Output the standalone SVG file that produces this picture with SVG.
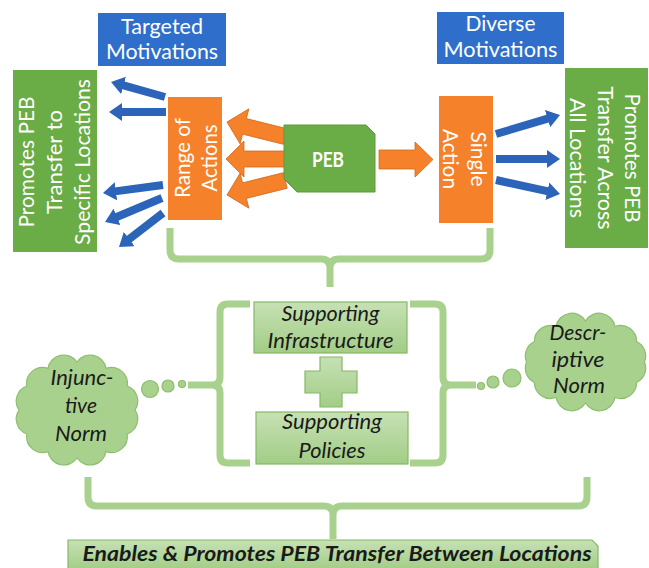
<svg xmlns="http://www.w3.org/2000/svg" width="649" height="568" viewBox="0 0 649 568">
<defs>
<style>
 text { font-family: Lato, 'Liberation Sans', Arial, sans-serif; }
 .w { fill:#ffffff; font-size:21px; text-anchor:middle; }
 .it { fill:#1a1a1a; font-size:21px; font-style:italic; text-anchor:middle; }
 .blue { fill:#2f6fcb; }
 .green { fill:#6aac46; }
 .orange { fill:#f5822a; }
 .oarrow { fill:#f5822a; stroke:#cf6a1f; stroke-width:0.8; }
 .barrow { stroke:#2c64ba; stroke-width:8; fill:none; marker-end:url(#bh); }
 .brace { fill:none; stroke:#a9d18e; stroke-width:7; stroke-linejoin:round; }
 .lg { fill:url(#lg); stroke:#86b866; stroke-width:1.2; }
 .cloud { fill:#a9d18e; stroke:#8dbd6e; stroke-width:1.2; }
</style>
<linearGradient id="lg" x1="0" y1="0" x2="0" y2="1">
 <stop offset="0" stop-color="#c6e1b4"/>
 <stop offset="1" stop-color="#a2cd86"/>
</linearGradient>
<marker id="bh" markerUnits="userSpaceOnUse" markerWidth="13" markerHeight="18" viewBox="0 0 13 18" refX="1" refY="9" orient="auto">
 <path d="M0,0 L13,9 L0,18 Z" fill="#2c64ba"/>
</marker>
<path id="oa" d="M0,0 L18,-18 L18,-8 L60,-8 L60,8 L18,8 L18,18 Z"/>
</defs>

<g id="connectors">
 <line class="barrow" x1="165" y1="97" x2="122.6" y2="85.2"/>
 <line class="barrow" x1="166" y1="112" x2="121" y2="112"/>
 <line class="barrow" x1="163" y1="185" x2="114.9" y2="191.4"/>
 <line class="barrow" x1="162" y1="198" x2="116.1" y2="217.3"/>
 <line class="barrow" x1="163" y1="213" x2="128.5" y2="239.7"/>
 <line class="barrow" x1="496" y1="134" x2="548.5" y2="118.4"/>
 <line class="barrow" x1="496" y1="159" x2="548" y2="159"/>
 <line class="barrow" x1="496" y1="180" x2="548.3" y2="191.4"/>
 <use href="#oa" class="oarrow" transform="translate(227,122) rotate(14)"/>
 <use href="#oa" class="oarrow" transform="translate(227,195) rotate(-14)"/>
 <use href="#oa" class="oarrow" transform="translate(226,159)"/>
 <path class="oarrow" d="M379,150 H415 V142 L433,159.5 L415,177 V169 H379 Z"/>
 <path class="brace" d="M170,228 V250 Q170,259 179,259 H321 Q330,259 330,268 V287 M330,268 Q330,259 339,259 H481 Q490,259 490,250 V228"/>
 <path class="brace" stroke-width="6" d="M250,304 H228 Q220,304 220,312 V377 Q220,385 212,385 H188 M212,385 Q220,385 220,393 V455 Q220,463 228,463 H250"/>
 <path class="brace" stroke-width="6" d="M410,304 H435 Q443,304 443,312 V377 Q443,385 451,385 H476 M451,385 Q443,385 443,393 V455 Q443,463 435,463 H410"/>
 <path class="brace" d="M88,477 V497 Q88,506 97,506 H324 Q333,506 333,515 V539 M333,515 Q333,506 342,506 H578 Q587,506 587,497 V477"/>
</g>

<g id="targeted-motivations">
 <rect x="98" y="13" width="128" height="53" class="blue"/>
 <text class="w" x="162" y="34" textLength="82" lengthAdjust="spacingAndGlyphs">Targeted</text>
 <text class="w" x="162" y="59" textLength="112" lengthAdjust="spacingAndGlyphs">Motivations</text>
</g>

<g id="diverse-motivations">
 <rect x="437" y="12" width="127" height="52" class="blue"/>
 <text class="w" x="500.5" y="31" textLength="70" lengthAdjust="spacingAndGlyphs">Diverse</text>
 <text class="w" x="500.5" y="57" textLength="114" lengthAdjust="spacingAndGlyphs">Motivations</text>
</g>

<g id="specific-locations">
 <rect x="13" y="70" width="84" height="182" class="green"/>
 <g transform="translate(0,162) rotate(-90)">
  <text class="w" x="0" y="34" textLength="131" lengthAdjust="spacingAndGlyphs">Promotes PEB</text>
  <text class="w" x="0" y="62" textLength="104" lengthAdjust="spacingAndGlyphs">Transfer to</text>
  <text class="w" x="0" y="90" textLength="166" lengthAdjust="spacingAndGlyphs">Specific Locations</text>
 </g>
</g>

<g id="range-of-actions">
 <rect x="168" y="97" width="54" height="123" class="orange"/>
 <g transform="translate(0,158) rotate(-90)">
  <text class="w" x="0" y="190" textLength="80" lengthAdjust="spacingAndGlyphs">Range of</text>
  <text class="w" x="0" y="217" textLength="67" lengthAdjust="spacingAndGlyphs">Actions</text>
 </g>
</g>

<g id="peb">
 <path d="M284,125 H366 L375,134 V192 H297 L284,179 Z" class="green" stroke="#5c9a3b" stroke-width="1"/>
 <text class="w" x="328" y="167" font-weight="bold" textLength="32" lengthAdjust="spacingAndGlyphs">PEB</text>
</g>

<g id="single-action">
 <rect x="439" y="96" width="54" height="127" class="orange"/>
 <g transform="translate(493,159) rotate(90)">
  <text class="w" x="0" y="22" textLength="55" lengthAdjust="spacingAndGlyphs">Single</text>
  <text class="w" x="0" y="50" textLength="60" lengthAdjust="spacingAndGlyphs">Action</text>
 </g>
</g>

<g id="all-locations">
 <rect x="565" y="68" width="83" height="180" class="green"/>
 <g transform="translate(648,158) rotate(90)">
  <text class="w" x="0" y="23" textLength="129" lengthAdjust="spacingAndGlyphs">Promotes PEB</text>
  <text class="w" x="0" y="50" textLength="143" lengthAdjust="spacingAndGlyphs">Transfer Across</text>
  <text class="w" x="0" y="78" textLength="120" lengthAdjust="spacingAndGlyphs">All Locations</text>
 </g>
</g>

<g id="supporting-infrastructure">
 <rect x="254" y="302" width="153" height="51" class="lg"/>
 <text class="it" x="330.5" y="321" textLength="98" lengthAdjust="spacingAndGlyphs">Supporting</text>
 <text class="it" x="330.5" y="348" textLength="126" lengthAdjust="spacingAndGlyphs">Infrastructure</text>
</g>

<g id="plus">
 <path class="lg" d="M320,357 H342 V371 H357 V393 H342 V407 H320 V393 H305 V371 H320 Z"/>
</g>

<g id="supporting-policies">
 <rect x="256" y="412" width="152" height="52" class="lg"/>
 <text class="it" x="332" y="429" textLength="100" lengthAdjust="spacingAndGlyphs">Supporting</text>
 <text class="it" x="332" y="458" textLength="67" lengthAdjust="spacingAndGlyphs">Policies</text>
</g>

<g id="injunctive-norm">
 <path class="cloud" d="M135,410 A16,16 0 0,1 127.2,434 A16,16 0 0,1 106,451.6 A16,16 0 0,1 77,458 A16,16 0 0,1 48,451.6 A16,16 0 0,1 26.8,434 A16,16 0 0,1 19,410 A16,16 0 0,1 26.8,386 A16,16 0 0,1 48,368.4 A16,16 0 0,1 77,362 A16,16 0 0,1 106,368.4 A16,16 0 0,1 127.2,386 A16,16 0 0,1 135,410 Z"/>
 <circle class="cloud" cx="150" cy="389" r="8.5"/>
 <circle class="cloud" cx="168" cy="386" r="6"/>
 <circle class="cloud" cx="182" cy="384" r="3.5"/>
 <text class="it" x="82" y="385" textLength="63" lengthAdjust="spacingAndGlyphs">Injunc-</text>
 <text class="it" x="81" y="413" textLength="32" lengthAdjust="spacingAndGlyphs">tive</text>
 <text class="it" x="81" y="441" textLength="52" lengthAdjust="spacingAndGlyphs">Norm</text>
</g>

<g id="descriptive-norm">
 <path class="cloud" d="M644.5,362 A16,16 0 0,1 636.6,382.5 A16,16 0 0,1 615,397.5 A16,16 0 0,1 585.5,403 A16,16 0 0,1 556,397.5 A16,16 0 0,1 534.4,382.5 A16,16 0 0,1 526.5,362 A16,16 0 0,1 534.4,341.5 A16,16 0 0,1 556,326.5 A16,16 0 0,1 585.5,321 A16,16 0 0,1 615,326.5 A16,16 0 0,1 636.6,341.5 A16,16 0 0,1 644.5,362 Z"/>
 <circle class="cloud" cx="481" cy="386" r="3.5"/>
 <circle class="cloud" cx="493" cy="382" r="6"/>
 <circle class="cloud" cx="512" cy="378" r="9"/>
 <text class="it" x="578" y="340" textLength="57" lengthAdjust="spacingAndGlyphs">Descr-</text>
 <text class="it" x="578" y="367" textLength="53" lengthAdjust="spacingAndGlyphs">iptive</text>
 <text class="it" x="579" y="393" textLength="52" lengthAdjust="spacingAndGlyphs">Norm</text>
</g>

<g id="enables-promotes">
 <path class="lg" d="M68,540 H592 L598,546 V570 H68 Z"/>
 <text class="it" x="337" y="561" font-weight="bold" textLength="509" lengthAdjust="spacingAndGlyphs">Enables &amp; Promotes PEB Transfer Between Locations</text>
</g>
</svg>
